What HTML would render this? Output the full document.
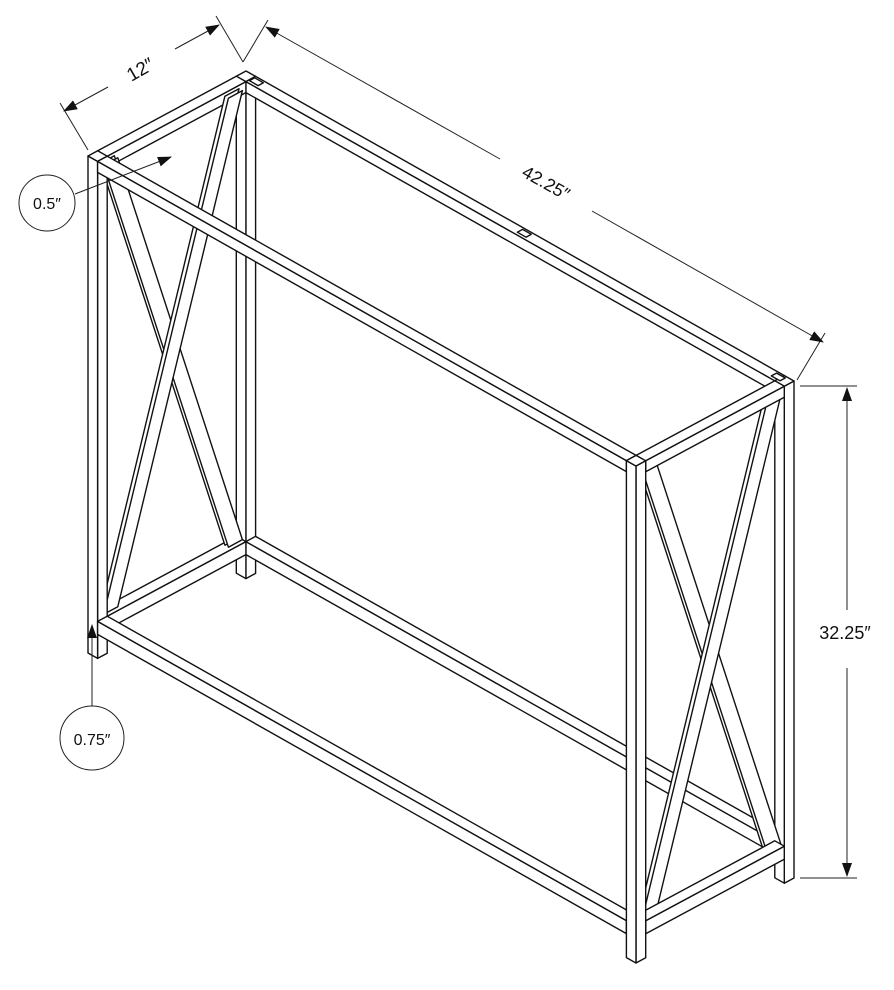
<!DOCTYPE html>
<html><head><meta charset="utf-8"><style>
html,body{margin:0;padding:0;background:#fff;}
svg{display:block;}
text{font-family:"Liberation Sans",sans-serif;fill:#111;}
</style></head><body>
<svg id="s" width="894" height="990" viewBox="0 0 894 990" xmlns="http://www.w3.org/2000/svg">
<defs>
<marker id="a" markerWidth="14" markerHeight="10" refX="13" refY="5" orient="auto" markerUnits="userSpaceOnUse">
<path d="M0,0 L14,5 L0,10 z" fill="#111"/></marker>
</defs>
<g id="tbl"></g>
<g stroke="#222" stroke-width="1" fill="none">
<line x1="88" y1="150" x2="60" y2="103"/>
<line x1="243" y1="62" x2="216" y2="16"/>
<line x1="108" y1="87" x2="64" y2="111" marker-end="url(#a)"/>
<line x1="175" y1="49" x2="219" y2="25" marker-end="url(#a)"/>
<line x1="243" y1="62" x2="268" y2="20"/>
<line x1="797" y1="380" x2="825" y2="333"/>
<line x1="500" y1="159" x2="266" y2="27" marker-end="url(#a)"/>
<line x1="592" y1="211" x2="823" y2="342" marker-end="url(#a)"/>
<line x1="800" y1="386" x2="857" y2="386"/>
<line x1="800" y1="878" x2="857" y2="878"/>
<line x1="847" y1="610" x2="847" y2="388" marker-end="url(#a)"/>
<line x1="847" y1="668" x2="847" y2="876" marker-end="url(#a)"/>
<circle cx="47" cy="203" r="28"/>
<line x1="75" y1="194" x2="171" y2="157" marker-end="url(#a)"/>
<circle cx="92" cy="738" r="32"/>
<line x1="92" y1="706" x2="92" y2="625" marker-end="url(#a)"/>
</g>
<text x="140" y="76" font-size="19" text-anchor="middle" transform="rotate(-30 140 69)">12″</text>
<text x="546" y="189" font-size="18" text-anchor="middle" transform="rotate(29.4 546 183)">42.25″</text>
<text x="845" y="639" font-size="18" text-anchor="middle">32.25″</text>
<text x="47" y="209" font-size="16" text-anchor="middle">0.5″</text>
<text x="92" y="745" font-size="16" text-anchor="middle">0.75″</text>
</svg>
<script>
(function(){
var F=[88,156],ex=[548/630,310/630],ey=[158/180,-85/180];
function P(x,y,z){return [F[0]+x*ex[0]+y*ey[0],F[1]+x*ex[1]+y*ey[1]+z];}
var out="";
function poly(p){out+='<polygon points="'+p.map(function(q){return q[0].toFixed(1)+','+q[1].toFixed(1);}).join(' ')+'" fill="#fff" stroke="#111" stroke-width="1.4" stroke-linejoin="round"/>';}
function box(x0,x1,y0,y1,z0,z1){
poly([P(x1,y0,z0),P(x1,y1,z0),P(x1,y1,z1),P(x1,y0,z1)]);
poly([P(x0,y0,z0),P(x1,y0,z0),P(x1,y0,z1),P(x0,y0,z1)]);
poly([P(x0,y0,z0),P(x1,y0,z0),P(x1,y1,z0),P(x0,y1,z0)]);}
var H=497,t=11,L=630,D=180,bz0=460,bz1=473,w=16;
function braces(x){
[0,4].forEach(function(d){
poly([P(x+d,t,t),P(x+d,t+w,t),P(x+d,D-t,bz0),P(x+d,D-t-w,bz0)]);});
[0,4].forEach(function(d){
poly([P(x+d,D-t-w,t),P(x+d,D-t,t),P(x+d,t+w,bz0),P(x+d,t,bz0)]);});}
box(0,t,D-t,D,0,H);
box(t,L-t,D-t,D,0,t);
box(t,L-t,D-t,D,bz0,bz1);
box(0,t,t,D-t,0,t);
box(0,t,t,D-t,bz0,bz1);
braces(3);
box(0,t,0,t,0,H);
box(t,L-t,0,t,0,t);
box(t,L-t,0,t,bz0,bz1);
box(L-t,L,D-t,D,0,H);
braces(L-8);
box(L-t,L,t,D-t,0,t);
box(L-t,L,t,D-t,bz0,bz1);
box(L-t,L,0,t,0,H);
[[12,175],[320,175],[612,175]].forEach(function(c){
var a=P(c[0],c[1]-3,0),b=P(c[0]+10,c[1]-3,0),e=P(c[0]+10,c[1]+3,0),f=P(c[0],c[1]+3,0);
poly([a,b,e,f]);});
document.getElementById('tbl').innerHTML=out;
})();
</script>
</body></html>
